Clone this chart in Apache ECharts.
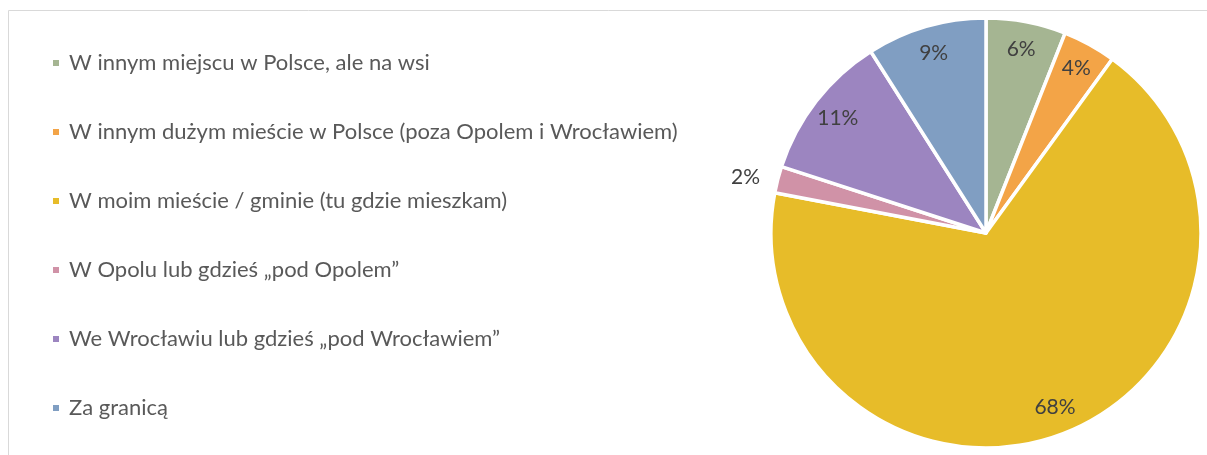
<!DOCTYPE html>
<html>
<head>
<meta charset="utf-8">
<script src="https://cdn.jsdelivr.net/npm/echarts@6/dist/echarts.min.js"></script>
<style>
  html, body { margin: 0; padding: 0; background: #ffffff; }
  #chart { width: 1207px; height: 455px; }
</style>
</head>
<body>
<div id="chart"></div>
<script>
// Where respondents see themselves living (share of answers, %)
const categories = [
  'W innym miejscu w Polsce, ale na wsi',
  'W innym dużym mieście w Polsce (poza Opolem i Wrocławiem)',
  'W moim mieście / gminie (tu gdzie mieszkam)',
  'W Opolu lub gdzieś „pod Opolem”',
  'We Wrocławiu lub gdzieś „pod Wrocławiem”',
  'Za granicą'
];
const shares = [6, 4, 68, 2, 11, 9];
const colors = ['#A5B592', '#F3A447', '#E7BC29', '#D092A7', '#9C85C0', '#809EC2'];

const center = [986, 233];
const outerRadius = 215;

const chart = echarts.init(document.getElementById('chart'), null, { renderer: 'canvas' });

const sliceData = categories.map((name, i) => ({
  name,
  value: shares[i],
  itemStyle: { color: colors[i] }
}));

// Transparent ring on top of the pie that carries the percentage labels
// near the outer edge of each slice; the thinnest slice gets its label outside.
const labelData = categories.map((name, i) => {
  const item = { name, value: shares[i] };
  if (shares[i] < 3) {
    item.label = { position: 'outside' };
    item.labelLine = { show: false, length: 10, length2: 3 };
  }
  return item;
});

chart.setOption({
  animation: false,
  graphic: [{
    type: 'polyline',
    silent: true,
    shape: { points: [[8.5, 460], [8.5, 10.5], [1212, 10.5]] },
    style: { stroke: '#D9D9D9', lineWidth: 1, fill: null }
  }],
  legend: {
    orient: 'vertical',
    left: 46,
    top: 46,
    data: categories,
    icon: 'rect',
    itemWidth: 8,
    itemHeight: 8,
    itemGap: 45,
    selectedMode: false,
    textStyle: {
      fontFamily: 'Lato',
      fontSize: 22,
      lineHeight: 24,
      color: '#595959',
      padding: [0, 0, 0, 4]
    }
  },
  series: [
    {
      type: 'pie',
      center,
      radius: outerRadius,
      startAngle: 90,
      clockwise: true,
      silent: true,
      data: sliceData,
      label: { show: false },
      labelLine: { show: false },
      itemStyle: { borderColor: '#ffffff', borderWidth: 3.5 }
    },
    {
      type: 'pie',
      center,
      radius: [154, outerRadius],
      startAngle: 90,
      clockwise: true,
      silent: true,
      data: labelData,
      itemStyle: { color: 'rgba(0,0,0,0)', borderWidth: 0 },
      label: {
        show: true,
        position: 'inside',
        formatter: '{d}%',
        fontFamily: 'Lato',
        fontSize: 21,
        color: '#404040'
      },
      labelLine: { show: false }
    }
  ]
});
</script>
</body>
</html>
